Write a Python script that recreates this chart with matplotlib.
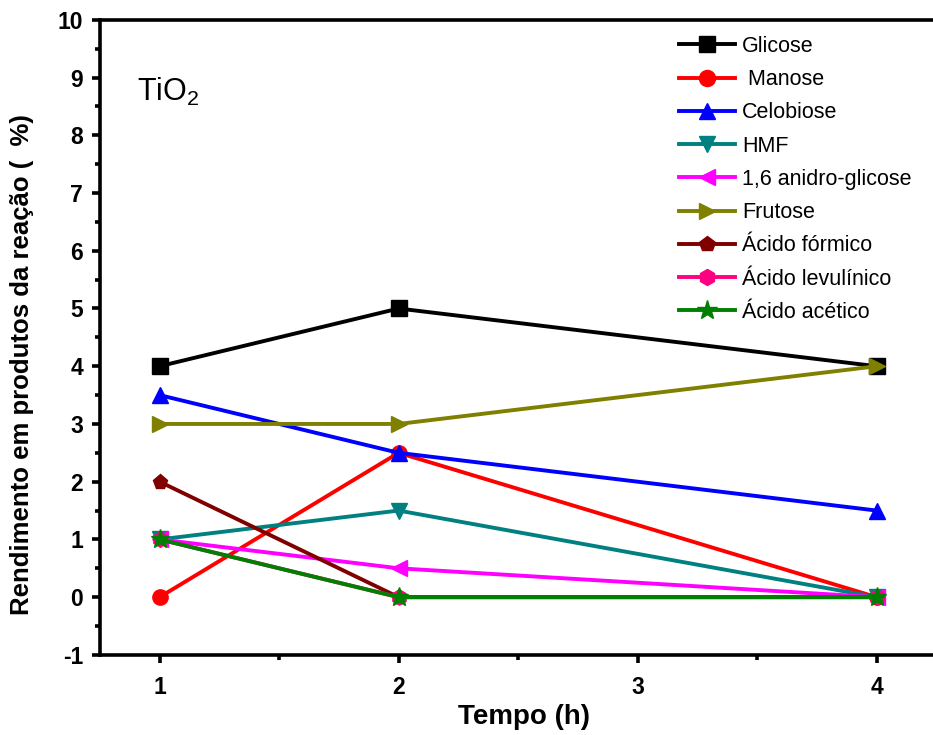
import matplotlib
matplotlib.use("Agg")
import matplotlib.pyplot as plt
from matplotlib.ticker import MultipleLocator

plt.rcParams['font.family'] = ['Liberation Sans', 'DejaVu Sans']
plt.rcParams['mathtext.fontset'] = 'custom'
plt.rcParams['mathtext.rm'] = 'Liberation Sans'
plt.rcParams['axes.unicode_minus'] = False

# data
tempo = [1, 2, 4]
series_names = ['Glicose', ' Manose', 'Celobiose', 'HMF', '1,6 anidro-glicose',
                'Frutose', 'Ácido fórmico', 'Ácido levulínico', 'Ácido acético']
glicose = [4, 5, 4]
manose = [0, 2.5, 0]
celobiose = [3.5, 2.5, 1.5]
hmf = [1, 1.5, 0]
anidro = [1, 0.5, 0]
frutose = [3, 3, 4]
formico = [2, 0, 0]
levulinico = [1, 0, 0]
acetico = [1, 0, 0]

series_values = [glicose, manose, celobiose, hmf, anidro, frutose, formico, levulinico, acetico]
colors = ['black', 'red', 'blue', '#008080', 'magenta', '#808000', '#800000', '#FF0080', '#008000']
markers = ['s', 'o', '^', 'v', '<', '>', 'p', 'h', '*']


def main():
    fig = plt.figure(figsize=(9.33, 7.35), dpi=100)
    # axes runs past the right edge of the figure, like the cropped original
    ax = fig.add_axes([0.107, 0.109, 0.9094, 0.864])

    for name, vals, c, m in zip(series_names, series_values, colors, markers):
        ms = 14 if m == '*' else 11
        ax.plot(tempo, vals, color=c, marker=m, markersize=ms, linewidth=2.8,
                label=name, clip_on=False)

    ax.set_xlim(0.75, 4.3)
    ax.set_ylim(-1, 10)
    ax.xaxis.set_major_locator(MultipleLocator(1))
    ax.xaxis.set_minor_locator(MultipleLocator(0.5))
    ax.yaxis.set_major_locator(MultipleLocator(1))
    ax.yaxis.set_minor_locator(MultipleLocator(0.5))
    ax.set_xticks([1, 2, 3, 4])

    for s in ax.spines.values():
        s.set_linewidth(2.6)
    ax.spines['right'].set_visible(False)
    ax.tick_params(which='major', direction='out', length=6, width=2.6,
                   labelsize=16.5, pad=6)
    ax.tick_params(axis='x', which='major', pad=9)
    ax.tick_params(which='minor', direction='out', length=3.5, width=2.6)
    ax.tick_params(top=False, right=False, which='both')
    for lbl in ax.get_xticklabels() + ax.get_yticklabels():
        lbl.set_fontweight('bold')
        lbl.set_family(['Liberation Sans Narrow', 'Liberation Sans'])

    ax.set_xlabel('Tempo (h)', fontsize=20, fontweight='bold',
                  family=['Liberation Sans Narrow', 'Liberation Sans'], labelpad=4)
    ax.set_ylabel('Rendimento em produtos da reação (  %)', fontsize=18.5,
                  fontweight='bold', va='center')
    ax.yaxis.set_label_coords(-0.092, 0.457)

    ax.text(0.905, 8.6, r'TiO$_2$', fontsize=22)

    ax.legend(loc='upper left', bbox_to_anchor=(0.719, 0.963), bbox_transform=fig.transFigure,
              frameon=False, fontsize=15.5, handlelength=2.6, labelspacing=0.57,
              handletextpad=0.3, borderaxespad=0, markerscale=1.05)

    fig.savefig('out.png', dpi=100)


if __name__ == "__main__":
    main()
